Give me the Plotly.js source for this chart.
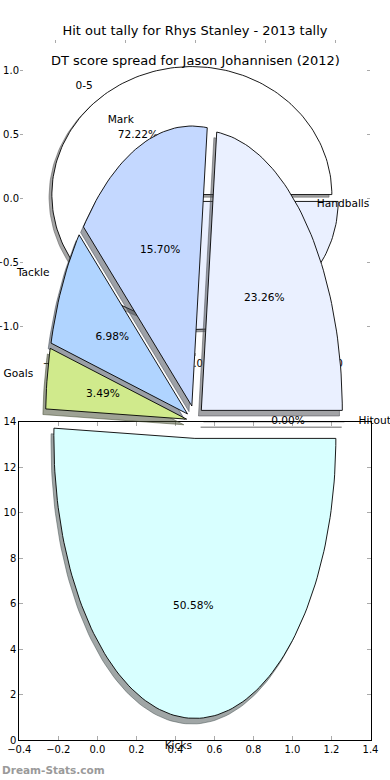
<!DOCTYPE html>
<html><head><meta charset="utf-8">
<script src="https://cdn.plot.ly/plotly-3.0.1.min.js"></script>
<style>html,body{margin:0;padding:0;background:#fff;} #chart{width:390px;height:780px;}</style>
</head><body><div id="chart"></div>
<script>
// ---- data ----
const statLabels = ['Hitout', 'Handballs', 'Mark', 'Tackle', 'Goals', 'Kicks'];
const statCounts = [0, 40, 27, 12, 6, 87];
const statColors = ['#ffffff', '#eaf0ff', '#c4d8ff', '#b0d4ff', '#d0ea8c', '#d8ffff'];

const binLabels = ['0-5', '6-10'];
const binCounts = [13, 5];
const binColors = ['#ffffff', '#eaf0ff'];

const topXTicks = [-1, -0.5, 0, 0.5, 1];
const midYTicks = [-1, -0.5, 0, 0.5, 1];
const botXTicks = [-0.4, -0.2, 0, 0.2, 0.4, 0.6, 0.8, 1.0, 1.2, 1.4];
const botYTicks = [0, 2, 4, 6, 8, 10, 12, 14];

const titleTop = 'Hit out tally for Rhys Stanley - 2013 tally';
const titleMid = 'DT score spread for Jason Johannisen (2012)';
const watermark = 'Dream-Stats.com';

// ---- geometry (pixels) ----
const W = 390, H = 780;
const topFrame = {l: 20, r: 370, t: 40, b: 356};
const midYZero = 198, midYUnit = 128;
const botFrame = {l: 19.3, r: 370.5, t: 421.7, b: 740};
const pieC = {x: 195, y: 421.6}, pieRx = 141, pieRy = 280;
const FONT = 'DejaVu Sans, sans-serif';

function wedges(counts, explode) {
  const total = counts.reduce((a, b) => a + b, 0);
  let acc = 0;
  return counts.map(c => {
    const t1 = 360 * acc / total; acc += c;
    const t2 = 360 * acc / total;
    const mid = (t1 + t2) / 2 * Math.PI / 180;
    const ox = explode * Math.cos(mid), oy = explode * Math.sin(mid);
    const xs = [ox], ys = [oy];
    const n = Math.max(1, Math.ceil((t2 - t1) / 1.5));
    for (let k = 0; k <= n; k++) {
      const a = (t1 + (t2 - t1) * k / n) * Math.PI / 180;
      xs.push(ox + Math.cos(a)); ys.push(oy + Math.sin(a));
    }
    xs.push(ox); ys.push(oy);
    return {xs, ys, mid, ox, oy, frac: c / total};
  });
}
function shadowColor(hex) {
  const r = parseInt(hex.slice(1, 3), 16), g = parseInt(hex.slice(3, 5), 16), b = parseInt(hex.slice(5, 7), 16);
  return `rgba(${Math.round(r * 0.3)},${Math.round(g * 0.3)},${Math.round(b * 0.3)},0.5)`;
}
function pieTraces(labels, counts, colors, explode, xa, ya) {
  const ws = wedges(counts, explode);
  const tr = [];
  ws.forEach((w, i) => tr.push({
    type: 'scatter', mode: 'lines', xaxis: xa, yaxis: ya, hoverinfo: 'skip',
    x: w.xs.map(v => v - 0.02), y: w.ys.map(v => v - 0.02), fill: 'toself',
    fillcolor: shadowColor(colors[i]), line: {color: shadowColor(colors[i]), width: 1}
  }));
  ws.forEach((w, i) => tr.push({
    type: 'scatter', mode: 'lines', xaxis: xa, yaxis: ya, hoverinfo: 'skip',
    x: w.xs, y: w.ys, fill: 'toself', fillcolor: colors[i], line: {color: '#000', width: 0.9}
  }));
  const lx = ws.map(w => w.ox + 1.1 * Math.cos(w.mid));
  const ly = ws.map(w => w.oy + 1.1 * Math.sin(w.mid));
  tr.push({
    type: 'scatter', mode: 'text', xaxis: xa, yaxis: ya, hoverinfo: 'skip', cliponaxis: false,
    x: lx, y: ly, text: labels, textposition: lx.map(v => v > 0 ? 'middle right' : 'middle left'),
    textfont: {family: FONT, size: 10.6, color: '#000'}
  });
  tr.push({
    type: 'scatter', mode: 'text', xaxis: xa, yaxis: ya, hoverinfo: 'skip', cliponaxis: false,
    x: ws.map(w => w.ox + 0.6 * Math.cos(w.mid)), y: ws.map(w => w.oy + 0.6 * Math.sin(w.mid)),
    text: ws.map(w => (w.frac * 100).toFixed(2) + '%'), textposition: 'middle center',
    textfont: {family: FONT, size: 10.6, color: '#000'}
  });
  return tr;
}

// empty carrier traces so the frame-only axes get drawn
const frameTraces = [
  {type: 'scatter', mode: 'lines', x: [], y: [], xaxis: 'x', yaxis: 'y', hoverinfo: 'skip'},
  {type: 'scatter', mode: 'lines', x: [], y: [], xaxis: 'x3', yaxis: 'y3', hoverinfo: 'skip'}
];

const traces = [].concat(
  frameTraces,
  pieTraces(binLabels, binCounts, binColors, 0.035, 'x2', 'y2'),
  pieTraces(statLabels, statCounts, statColors, 0.06, 'x4', 'y4')
);

const tickStyle = {ticks: 'inside', ticklen: 4, tickwidth: 1, tickcolor: '#aaa', showgrid: false, zeroline: false,
  tickfont: {family: FONT, size: 10, color: '#000'}};

const layout = {
  width: W, height: H, margin: {l: 0, r: 0, t: 0, b: 0, pad: 0},
  paper_bgcolor: '#ffffff', plot_bgcolor: 'rgba(0,0,0,0)', showlegend: false,
  font: {family: FONT, size: 10, color: '#000'},
  title: {text: titleTop, x: 0.5, xanchor: 'center', xref: 'paper', y: 1 - 30 / H, yanchor: 'middle',
    font: {family: FONT, size: 13, color: '#000'}},
  xaxis: Object.assign({}, tickStyle, {domain: [topFrame.l / W, topFrame.r / W], range: [-1.25, 1.25], anchor: 'y',
    tickvals: topXTicks, tickformat: '.1f', mirror: 'ticks', showline: false, ticklen: 3}),
  yaxis: {domain: [1 - topFrame.b / H, 1 - topFrame.t / H], range: [0, 1], anchor: 'x', visible: false},
  xaxis2: {domain: [topFrame.l / W, topFrame.r / W], range: [-1.25, 1.25], anchor: 'y2', visible: false},
  yaxis2: Object.assign({}, tickStyle, {domain: [0, 1], range: [-(H - midYZero) / midYUnit, midYZero / midYUnit], anchor: 'x2',
    tickvals: midYTicks, tickformat: '.1f', mirror: 'ticks', showline: false, ticklen: 3}),
  xaxis3: Object.assign({}, tickStyle, {domain: [botFrame.l / W, botFrame.r / W], range: [-0.4, 1.4], anchor: 'y3',
    tickvals: botXTicks, tickformat: '.1f', mirror: 'allticks', showline: true, linecolor: '#000', linewidth: 1}),
  yaxis3: Object.assign({}, tickStyle, {domain: [1 - botFrame.b / H, 1 - botFrame.t / H], range: [0, 14], anchor: 'x3',
    tickvals: botYTicks, mirror: 'allticks', showline: true, linecolor: '#000', linewidth: 1}),
  xaxis4: {domain: [0, 1], range: [-pieC.x / pieRx, (W - pieC.x) / pieRx], anchor: 'y4', visible: false},
  yaxis4: {domain: [0, 1], range: [-(H - pieC.y) / pieRy, pieC.y / pieRy], anchor: 'x4', visible: false},
  annotations: [
    {text: titleMid, xref: 'paper', yref: 'paper', x: 0.5, y: 1 - 61 / H, xanchor: 'center', yanchor: 'middle',
      showarrow: false, font: {family: FONT, size: 13, color: '#000'}},
    {text: '<b>' + watermark + '</b>', xref: 'paper', yref: 'paper', x: 0, y: 1 - 770 / H, xanchor: 'left', yanchor: 'middle',
      showarrow: false, font: {family: FONT, size: 10.5, color: '#9a9a9a'}}
  ]
};

Plotly.newPlot('chart', traces, layout, {staticPlot: true, displayModeBar: false});
</script>
</body></html>
